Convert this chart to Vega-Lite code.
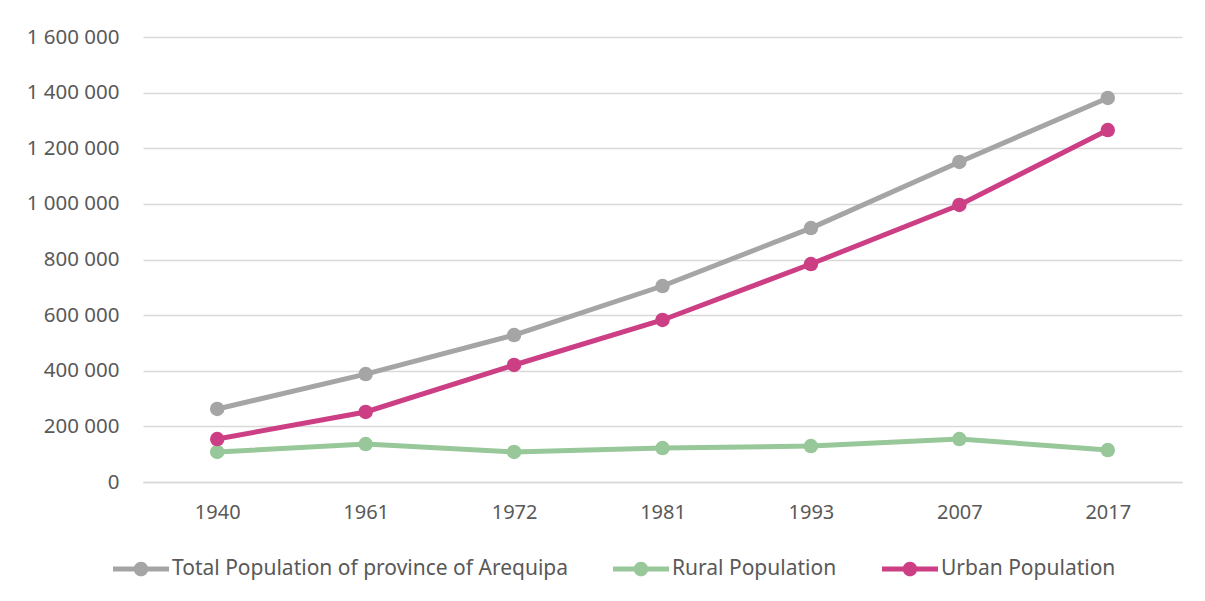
{
  "$schema": "https://vega.github.io/schema/vega-lite/v6.json",
  "width": 1039,
  "height": 445,
  "autosize": {"type": "none"},
  "padding": {"left": 143, "top": 37, "right": 23, "bottom": 119},
  "background": "white",
  "config": {
    "font": "Noto Sans",
    "view": {"stroke": null},
    "locale": {"number": {"decimal": ".", "thousands": " ", "grouping": [3], "currency": ["", ""]}}
  },
  "data": {
    "values": [
      {"year": "1940", "series": "Total Population of province of Arequipa", "pop": 262500},
      {"year": "1961", "series": "Total Population of province of Arequipa", "pop": 388000},
      {"year": "1972", "series": "Total Population of province of Arequipa", "pop": 528500},
      {"year": "1981", "series": "Total Population of province of Arequipa", "pop": 704700},
      {"year": "1993", "series": "Total Population of province of Arequipa", "pop": 913000},
      {"year": "2007", "series": "Total Population of province of Arequipa", "pop": 1150600},
      {"year": "2017", "series": "Total Population of province of Arequipa", "pop": 1380700},
      {"year": "1940", "series": "Rural Population", "pop": 107900},
      {"year": "1961", "series": "Rural Population", "pop": 136600},
      {"year": "1972", "series": "Rural Population", "pop": 107900},
      {"year": "1981", "series": "Rural Population", "pop": 122000},
      {"year": "1993", "series": "Rural Population", "pop": 129400},
      {"year": "2007", "series": "Rural Population", "pop": 154600},
      {"year": "2017", "series": "Rural Population", "pop": 115000},
      {"year": "1940", "series": "Urban Population", "pop": 154600},
      {"year": "1961", "series": "Urban Population", "pop": 251700},
      {"year": "1972", "series": "Urban Population", "pop": 420700},
      {"year": "1981", "series": "Urban Population", "pop": 582500},
      {"year": "1993", "series": "Urban Population", "pop": 783800},
      {"year": "2007", "series": "Urban Population", "pop": 996000},
      {"year": "2017", "series": "Urban Population", "pop": 1265600}
    ]
  },
  "encoding": {
    "x": {
      "field": "year", "type": "ordinal", "title": null,
      "scale": {"type": "point", "padding": 0.5},
      "axis": {"labelAngle": 0, "ticks": false, "domainColor": "#D9D9D9", "domainWidth": 1.5, "labelColor": "#595959", "labelFontSize": 20, "labelPadding": 20, "grid": false}
    },
    "y": {
      "field": "pop", "type": "quantitative", "title": null,
      "scale": {"domain": [0, 1600000]},
      "axis": {"values": [0, 200000, 400000, 600000, 800000, 1000000, 1200000, 1400000, 1600000], "format": ",d", "domain": false, "ticks": false, "gridColor": "#D9D9D9", "gridWidth": 1.5, "labelColor": "#595959", "labelFontSize": 20.5, "labelPadding": 24}
    },
    "color": {
      "field": "series", "type": "nominal",
      "scale": {"domain": ["Total Population of province of Arequipa", "Rural Population", "Urban Population"], "range": ["#A5A5A5", "#98C899", "#CC3F85"]},
      "legend": {
        "title": null, "orient": "none", "direction": "horizontal", "columns": 3,
        "legendX": -30, "legendY": 504,
        "symbolType": "M-1,-0.09 H1 V0.09 H-1 Z M-0.26,0 A0.26,0.26 0 1,1 0.26,0 A0.26,0.26 0 1,1 -0.26,0 Z",
        "symbolSize": 3136, "symbolStrokeWidth": 0, "symbolOpacity": 1,
        "labelFontSize": 21, "labelColor": "#595959", "labelOffset": 3, "columnPadding": 45, "labelLimit": 500
      }
    }
  },
  "layer": [
    {"mark": {"type": "line", "strokeWidth": 5, "strokeCap": "round"}},
    {"mark": {"type": "point", "filled": true, "size": 210, "opacity": 1}}
  ]
}
